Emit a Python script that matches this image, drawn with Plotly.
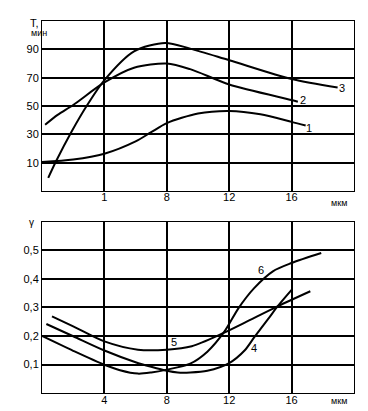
import plotly.graph_objects as go
from plotly.subplots import make_subplots

# ---- top panel data (T, min vs mkm) ----
c1_x = [0, 2, 4, 6, 7, 8, 10, 12, 14, 16, 16.9]
c1_y = [10.5, 12.2, 16.3, 25, 31.5, 37.9, 44.7, 46.5, 44.2, 38.8, 36.2]
c2_x = [0.2, 1.0, 2, 4, 5.9, 8, 9.5, 12, 16, 16.4]
c2_y = [36.7, 43.7, 50.7, 66.6, 77, 80, 76, 65.2, 54.2, 53]
c3_x = [0.4, 0.9, 1.9, 2.9, 4, 5.9, 7.9, 9.5, 12, 16, 18.95]
c3_y = [-0.7, 11, 32, 50.7, 68.3, 88.6, 94.5, 90.5, 82.3, 69, 63]

# ---- bottom panel data (gamma vs mkm) ----
c4_x = [0.28, 2, 4, 6, 7, 8, 8.7, 9.5, 10.6, 12, 13, 13.6, 14.5, 15.1, 16]
c4_y = [0.242, 0.199, 0.149, 0.108, 0.092, 0.078, 0.072, 0.072, 0.078, 0.105, 0.15, 0.195, 0.26, 0.304, 0.362]
c5_x = [0.64, 2, 4, 6.15, 8, 9.6, 11.5, 13, 15.1, 17.2]
c5_y = [0.269, 0.234, 0.181, 0.152, 0.152, 0.164, 0.207, 0.247, 0.304, 0.357]
c6_x = [0, 2, 4, 5, 6.15, 7, 8, 9.5, 10.6, 11.7, 12.6, 13.6, 14.8, 16, 17.9]
c6_y = [0.2, 0.148, 0.099, 0.08, 0.068, 0.072, 0.082, 0.103, 0.145, 0.216, 0.298, 0.368, 0.427, 0.456, 0.491]

top_xticks = [4, 8, 12, 16]
top_xtext = ["1", "8", "12", "16"]
bot_xticks = [4, 8, 12, 16]
bot_xtext = ["4", "8", "12", "16"]
top_yticks = [10, 30, 50, 70, 90]
top_ytext = ["10", "30", "50", "70", "90"]
bot_yticks = [0.1, 0.2, 0.3, 0.4, 0.5]
bot_ytext = ["0,1", "0,2", "0,3", "0,4", "0,5"]

top_labels = [("1", 17.1, 34.3), ("2", 16.75, 54.4), ("3", 19.25, 62.6)]
bot_labels = [("5", 8.46, 0.179), ("4", 13.6, 0.158), ("6", 14.06, 0.43)]

FONT = "Liberation Sans"

fig = make_subplots(rows=2, cols=1)
line = dict(color="black", width=2, shape="spline", smoothing=0.8)
for xs, ys in [(c1_x, c1_y), (c2_x, c2_y), (c3_x, c3_y)]:
    fig.add_trace(go.Scatter(x=xs, y=ys, mode="lines", line=line, showlegend=False), row=1, col=1)
for xs, ys in [(c4_x, c4_y), (c5_x, c5_y), (c6_x, c6_y)]:
    fig.add_trace(go.Scatter(x=xs, y=ys, mode="lines", line=line, showlegend=False), row=2, col=1)

axis_common = dict(showgrid=True, gridcolor="black", gridwidth=2, showline=True,
                   linecolor="black", linewidth=1, mirror=True, zeroline=False,
                   ticks="", tickfont=dict(family=FONT, size=11, color="black"))

fig.update_layout(
    width=368, height=411,
    margin=dict(l=34, r=22, t=13, b=26),
    paper_bgcolor="white", plot_bgcolor="white",
    font=dict(family=FONT, size=11, color="black"),
    xaxis=dict(domain=[0, 1], range=[0, 20], tickvals=top_xticks, ticktext=top_xtext,
               ticklabelstandoff=-4, **axis_common),
    yaxis=dict(domain=[0.543, 1], range=[-10, 110], tickvals=top_yticks, ticktext=top_ytext, **axis_common),
    xaxis2=dict(domain=[0, 1], range=[0, 20], tickvals=bot_xticks, ticktext=bot_xtext,
                ticklabelstandoff=-3, **axis_common),
    yaxis2=dict(domain=[0, 0.4597], range=[0, 0.6], tickvals=bot_yticks, ticktext=bot_ytext, **axis_common),
)

anns = []
for t, x, y in top_labels:
    anns.append(dict(text=t, x=x, y=y, xref="x", yref="y", showarrow=False,
                     font=dict(family=FONT, size=11)))
for t, x, y in bot_labels:
    anns.append(dict(text=t, x=x, y=y, xref="x2", yref="y2", showarrow=False,
                     font=dict(family=FONT, size=11)))
anns += [
    dict(text="мкм", x=0.984, y=0.5108, xref="paper", yref="paper", showarrow=False,
         font=dict(family=FONT, size=9)),
    dict(text="мкм", x=0.984, y=-0.039, xref="paper", yref="paper", showarrow=False,
         font=dict(family=FONT, size=9)),
    dict(text="T,", x=-0.0449, y=1.016, xref="paper", yref="paper", showarrow=False,
         font=dict(family=FONT, size=11)),
    dict(text="мин", x=-0.0417, y=0.9866, xref="paper", yref="paper", showarrow=False,
         font=dict(family=FONT, size=9)),
    dict(text="γ", x=-0.0465, y=0.457, xref="paper", yref="paper", showarrow=False,
         font=dict(family=FONT, size=10)),
]
fig.update_layout(annotations=anns)

fig.write_html("out.html")
